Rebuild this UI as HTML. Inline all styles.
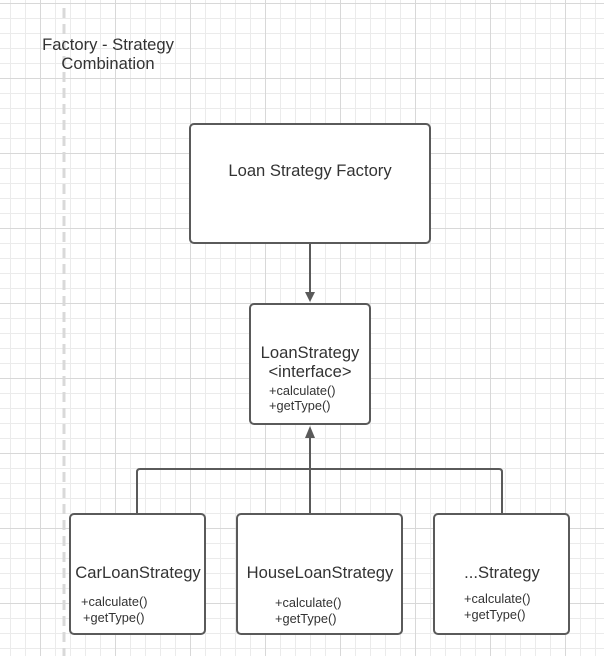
<!DOCTYPE html>
<html><head><style>
html,body{margin:0;padding:0;background:#fff;}
body{width:604px;height:656px;
background-image:
linear-gradient(to right,#d8d8d8 1px,transparent 1px),
linear-gradient(to bottom,#d8d8d8 1px,transparent 1px),
linear-gradient(to right,#ebebeb 1px,transparent 1px),
linear-gradient(to bottom,#ebebeb 1px,transparent 1px);
background-size:75px 75px,75px 75px,15px 15px,15px 15px;
background-position:40px 0,0 3px,10px 0,0 3px;}
svg{display:block;}
text{font-family:"Liberation Sans",sans-serif;fill:#333;}
</style></head><body>
<svg width="604" height="656" viewBox="0 0 604 656" xmlns="http://www.w3.org/2000/svg">
<line x1="64" y1="8" x2="64" y2="656" stroke="#d9d9d9" stroke-width="3" stroke-dasharray="10,6"/>
<text x="108" y="50" font-size="16.6" text-anchor="middle">Factory - Strategy</text>
<text x="108" y="69" font-size="16.6" text-anchor="middle">Combination</text>

<g stroke="#5a5a5a" stroke-width="2" fill="#fff">
<rect x="190" y="124" width="240" height="119" rx="4"/>
<rect x="250" y="304" width="120" height="120" rx="4"/>
<rect x="70" y="514" width="135" height="120" rx="4"/>
<rect x="237" y="514" width="165" height="120" rx="4"/>
<rect x="434" y="514" width="135" height="120" rx="4"/>
</g>
<g stroke="#5a5a5a" stroke-width="2" fill="none">
<line x1="310" y1="243" x2="310" y2="292"/>
<path d="M137 514V472Q137 469 140 469H499Q502 469 502 472V514"/>
<line x1="310" y1="514" x2="310" y2="436"/>
</g>
<path d="M305 292L315 292L310 302Z" fill="#5a5a5a"/>
<path d="M305 438L315 438L310 426Z" fill="#5a5a5a"/>

<text x="310" y="176" font-size="16.6" text-anchor="middle">Loan Strategy Factory</text>
<text x="310" y="358" font-size="16.6" text-anchor="middle">LoanStrategy</text>
<text x="310" y="377" font-size="16.6" text-anchor="middle">&lt;interface&gt;</text>
<text x="269" y="395" font-size="12.8">+calculate()</text>
<text x="269" y="410" font-size="12.8">+getType()</text>

<text x="138" y="578" font-size="16.6" text-anchor="middle">CarLoanStrategy</text>
<text x="81" y="606" font-size="12.8">+calculate()</text>
<text x="83" y="622" font-size="12.8">+getType()</text>

<text x="320" y="578" font-size="16.6" text-anchor="middle">HouseLoanStrategy</text>
<text x="275" y="607" font-size="12.8">+calculate()</text>
<text x="275" y="623" font-size="12.8">+getType()</text>

<text x="502" y="578" font-size="16.6" text-anchor="middle">...Strategy</text>
<text x="464" y="603" font-size="12.8">+calculate()</text>
<text x="464" y="619" font-size="12.8">+getType()</text>
</svg>
</body></html>
